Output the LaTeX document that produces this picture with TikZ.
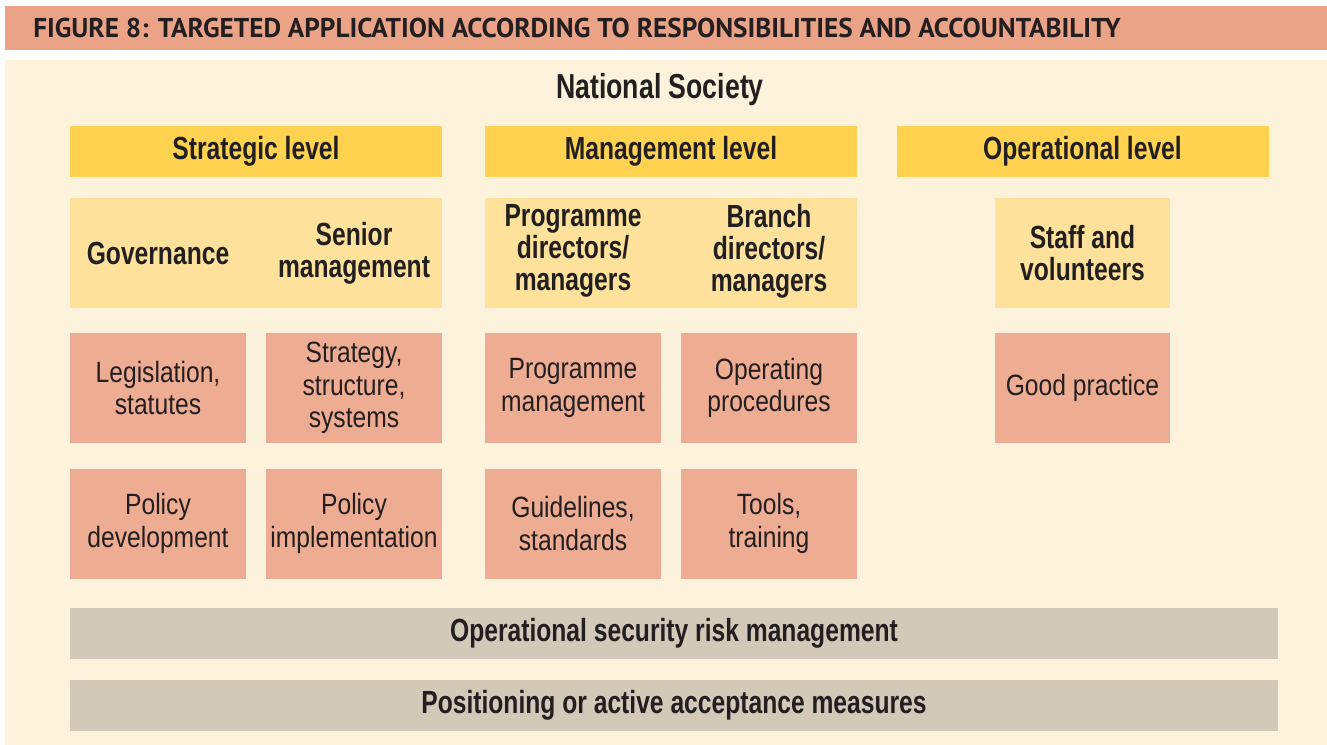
\documentclass[tikz,border=0pt]{standalone}
\usepackage{fontspec}
\setmainfont{Liberation Sans}
\newfontfamily\bodyfont[FakeStretch=0.84]{Liberation Sans}
\newfontfamily\headfont[FakeStretch=0.77]{Liberation Sans}
\newfontfamily\titlefont{PT Sans}

\definecolor{titlebar}{HTML}{EBA388}
\definecolor{panel}{HTML}{FDF3DC}
\definecolor{levelbar}{HTML}{FFD24F}
\definecolor{rolebox}{HTML}{FEE29C}
\definecolor{taskbox}{HTML}{EEAC93}
\definecolor{basebar}{HTML}{D3C9B9}
\definecolor{ink}{HTML}{231F20}

\tikzset{
  level/.style={fill=levelbar, minimum width=279pt, minimum height=38.25pt, inner sep=0pt,
    font=\headfont\bfseries\fontsize{24}{24}\selectfont, text=ink},
  role/.style={fill=rolebox, minimum height=82.5pt, inner sep=0pt},
  roletext/.style={align=center, font=\headfont\bfseries\fontsize{24}{24}\selectfont, text=ink},
  task/.style={fill=taskbox, minimum width=132pt, minimum height=82.5pt, inner sep=0pt,
    align=center, font=\bodyfont\fontsize{22}{24.5}\selectfont, text=ink},
  base/.style={fill=basebar, minimum width=906pt, minimum height=38.25pt, inner sep=0pt,
    font=\headfont\bfseries\fontsize{24}{24}\selectfont, text=ink}
}

\begin{document}
\begin{tikzpicture}[x=0.75pt, y=-0.75pt]
    \useasboundingbox (0,0) rectangle (1327,745);

    % Title bar and panel
    \fill[titlebar] (5,6) rectangle (1327,50);
    \node[anchor=west, inner sep=0pt, text=ink, font=\titlefont\bfseries\fontsize{20.4}{22}\selectfont]
        (title) at (33,28) {FIGURE 8: TARGETED APPLICATION ACCORDING TO RESPONSIBILITIES AND ACCOUNTABILITY};
    \fill[panel] (5,60) rectangle (1327,745);

    \node[text=ink, font=\headfont\bfseries\fontsize{26}{26}\selectfont] (society) at (660,90) {National Society};

    % Level headers
    \node[level] (strategic) at (256,151.5) {Strategic level};
    \node[level] (management) at (671,151.5) {Management level};
    \node[level] (operational) at (1082.5,151.5) {Operational level};

    % Roles
    \node[role, minimum width=279pt] (stratroles) at (256,253) {};
    \node[roletext] (governance) at (158,253) {Governance};
    \node[roletext] (senior) at (354,253) {Senior\\management};
    \node[role, minimum width=279pt] (mgmtroles) at (671,253) {};
    \node[roletext] (progdir) at (573,251) {Programme\\directors/\\managers};
    \node[roletext] (branchdir) at (769,251) {Branch\\directors/\\managers};
    \node[role, minimum width=131.25pt, roletext] (staff) at (1082.5,253) {Staff and\\volunteers};

    % Tasks, first row
    \node[task] (legislation) at (158,388) {Legislation,\\statutes};
    \node[task] (strategy) at (354,388) {Strategy,\\structure,\\systems};
    \node[task] (progmgmt) at (573,388) {Programme\\management};
    \node[task] (procedures) at (769,388) {Operating\\procedures};
    \node[task, minimum width=131.25pt] (practice) at (1082.5,388) {Good practice};

    % Tasks, second row
    \node[task] (policydev) at (158,523.5) {Policy\\development};
    \node[task] (policyimp) at (354,523.5) {Policy\\implementation};
    \node[task] (guidelines) at (573,523.5) {Guidelines,\\standards};
    \node[task] (tools) at (769,523.5) {Tools,\\training};

    % Base bars
    \node[base] (osrm) at (674,633.5) {Operational security risk management};
    \node[base] (acceptance) at (674,705.5) {Positioning or active acceptance measures};
\end{tikzpicture}
\end{document}
